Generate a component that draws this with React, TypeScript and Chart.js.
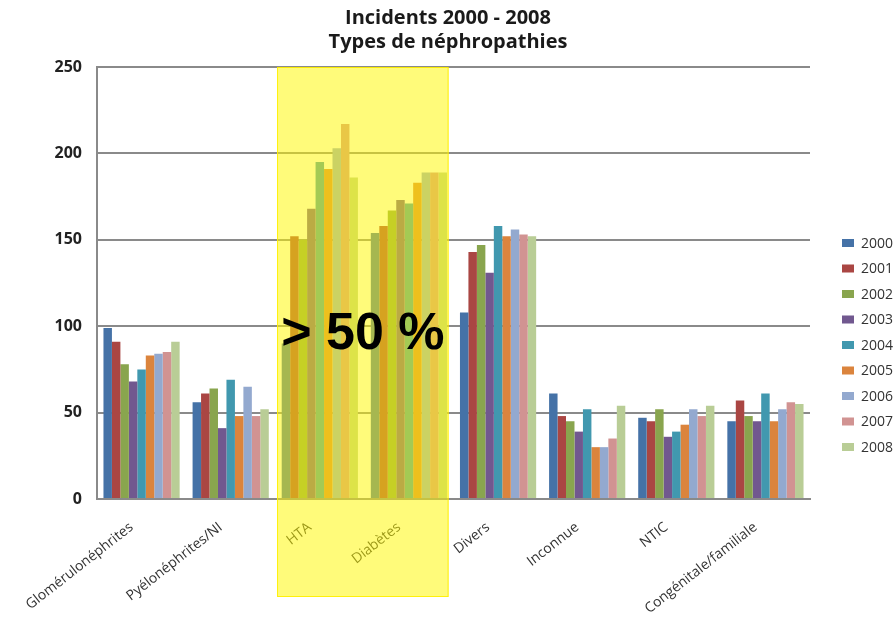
import React, { useEffect, useRef } from "react";
import { Chart, registerables } from "chart.js";

Chart.register(...registerables);

const categories = [
  "Glomérulonéphrites",
  "Pyélonéphrites/NI",
  "HTA",
  "Diabètes",
  "Divers",
  "Inconnue",
  "NTIC",
  "Congénitale/familiale",
];

const years = ["2000", "2001", "2002", "2003", "2004", "2005", "2006", "2007", "2008"];

const v2000 = [99, 56, 90, 154, 108, 61, 47, 45];
const v2001 = [91, 61, 152, 158, 143, 48, 45, 57];
const v2002 = [78, 64, 150, 167, 147, 45, 52, 48];
const v2003 = [68, 41, 168, 173, 131, 39, 36, 45];
const v2004 = [75, 69, 195, 171, 158, 52, 39, 61];
const v2005 = [83, 48, 191, 183, 152, 30, 43, 45];
const v2006 = [84, 65, 203, 189, 156, 30, 52, 52];
const v2007 = [85, 48, 217, 189, 153, 35, 48, 56];
const v2008 = [91, 52, 186, 189, 152, 54, 54, 55];

const seriesValues = [v2000, v2001, v2002, v2003, v2004, v2005, v2006, v2007, v2008];

const colors = [
  "#4572A7",
  "#AA4643",
  "#89A54E",
  "#71588F",
  "#4198AF",
  "#DB843D",
  "#93A9CF",
  "#D19392",
  "#B9CD96",
];

const titleLines = ["Incidents 2000 - 2008", "Types de néphropathies"];
const highlightCategories = ["HTA", "Diabètes"];
const highlightText = "> 50 %";
const highlightTextValue = 95;

const overlayPlugin = {
  id: "overlayAndLegend",
  afterDraw(chart: any) {
    const { ctx, chartArea, scales } = chart;
    const xs = scales.x;
    const ys = scales.y;
    const i0 = categories.indexOf(highlightCategories[0]);
    const i1 = categories.indexOf(highlightCategories[1]);
    const band = xs.getPixelForValue(1) - xs.getPixelForValue(0);
    const left = xs.getPixelForValue(i0) - 0.48 * band;
    const right = xs.getPixelForValue(i1) + 0.445 * band;
    const top = chartArea.top;
    const bottom = chartArea.bottom + 98;
    ctx.save();
    ctx.fillStyle = "rgba(255, 248, 0, 0.52)";
    ctx.fillRect(left, top, right - left, bottom - top);
    ctx.strokeStyle = "rgba(255, 238, 0, 0.9)";
    ctx.lineWidth = 1;
    ctx.strokeRect(left + 0.5, top + 0.5, right - left - 1, bottom - top - 1);

    ctx.fillStyle = "#000";
    ctx.font = 'bold 52px "Liberation Sans", Arial, sans-serif';
    ctx.textAlign = "center";
    ctx.textBaseline = "middle";
    ctx.fillText(highlightText, (left + right) / 2, ys.getPixelForValue(highlightTextValue));

    // legend
    ctx.font = '14px "Open Sans", sans-serif';
    ctx.textAlign = "left";
    ctx.textBaseline = "middle";
    const lx = chartArea.right + 32;
    const ly0 = chartArea.top + 176;
    years.forEach((yr, i) => {
      const yc = ly0 + i * 25.5;
      ctx.fillStyle = colors[i];
      ctx.fillRect(lx, yc - 4, 12, 8);
      ctx.fillStyle = "#333";
      ctx.fillText(yr, lx + 19, yc + 1);
    });
    ctx.restore();
  },
};

export default function App() {
  const ref = useRef<HTMLCanvasElement | null>(null);
  useEffect(() => {
    if (!ref.current) return;
    const chart = new Chart(ref.current, {
      type: "bar",
      data: {
        labels: categories,
        datasets: years.map((yr, i) => ({
          label: yr,
          data: seriesValues[i],
          backgroundColor: colors[i],
          borderWidth: 0,
          barPercentage: 1,
          categoryPercentage: 0.855,
        })),
      },
      options: {
        animation: false,
        responsive: true,
        maintainAspectRatio: false,
        layout: { padding: 0 },
        plugins: {
          legend: { display: false },
          tooltip: { enabled: false },
          title: {
            display: true,
            text: titleLines,
            color: "#1a1a1a",
            font: { family: '"Open Sans", sans-serif', weight: "bold", size: 20, lineHeight: 1.2 },
            padding: { top: 6, bottom: 13 },
          },
        },
        scales: {
          x: {
            grid: { display: false },
            border: { display: true, color: "#8a8a8a", width: 2 },
            ticks: {
              color: "#333",
              font: { family: '"Open Sans", sans-serif', size: 14 },
              minRotation: 38,
              maxRotation: 38,
              autoSkip: false,
              padding: 12,
              labelOffset: -10,
            },
            afterFit(scale: any) {
              scale.height = 118;
            },
          },
          y: {
            min: 0,
            max: 250,
            ticks: {
              stepSize: 50,
              color: "#222",
              font: { family: '"Open Sans", sans-serif', weight: "bold", size: 16 },
              padding: 15,
            },
            grid: { color: "#8a8a8a", lineWidth: 2, drawTicks: false },
            border: { display: true, color: "#8a8a8a", width: 2 },
            afterFit(scale: any) {
              scale.width = 97;
            },
          },
          legendSpace: {
            type: "linear",
            position: "right",
            display: true,
            grid: { display: false },
            border: { display: false },
            ticks: { display: false },
            afterFit(scale: any) {
              scale.width = 86;
            },
          },
        },
      },
      plugins: [overlayPlugin],
    });
    return () => chart.destroy();
  }, []);
  return (
    <div style={{ position: "absolute", left: 0, top: 0, width: 896, height: 617 }}>
      <canvas ref={ref} />
    </div>
  );
}
